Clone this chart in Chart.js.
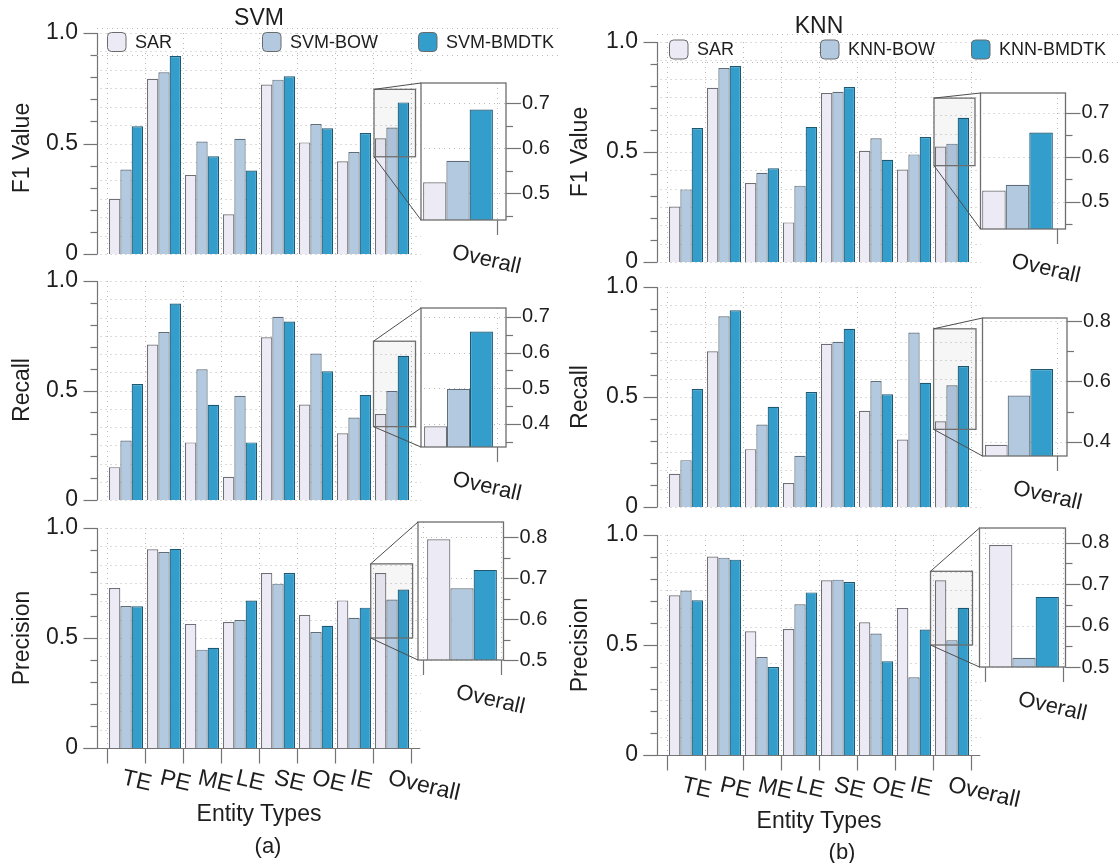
<!DOCTYPE html>
<html lang="en">
<head>
<meta charset="utf-8">
<title>Entity-type scores: SVM and KNN</title>
<script src="https://cdn.jsdelivr.net/npm/chart.js@4.4.1/dist/chart.umd.min.js"></script>
<style>
  html, body { margin: 0; padding: 0; background: #fff; }
  #page { position: relative; width: 1120px; height: 863px; overflow: hidden; background: #fff;
          font-family: "Liberation Sans", Arial, Helvetica, sans-serif; color: #1e1e1e; }
  #page canvas { position: absolute; }
  .lbl { position: absolute; white-space: nowrap; line-height: 1; z-index: 30; }
</style>
</head>
<body>
<div id="page"></div>
<script>
// ---------------- data ----------------
const categories = ['TE', 'PE', 'ME', 'LE', 'SE', 'OE', 'IE', 'Overall'];
const svmNames = ['SAR', 'SVM-BOW', 'SVM-BMDTK'];
const knnNames = ['SAR', 'KNN-BOW', 'KNN-BMDTK'];

// SVM
const svmF1Sar    = [0.250, 0.793, 0.358, 0.180, 0.767, 0.505, 0.420, 0.524];
const svmF1Bow    = [0.382, 0.822, 0.509, 0.521, 0.789, 0.588, 0.461, 0.572];
const svmF1Bmdtk  = [0.578, 0.896, 0.442, 0.378, 0.804, 0.569, 0.547, 0.686];
const svmRecSar   = [0.150, 0.710, 0.263, 0.106, 0.743, 0.436, 0.305, 0.393];
const svmRecBow   = [0.272, 0.767, 0.597, 0.476, 0.837, 0.669, 0.377, 0.498];
const svmRecBmdtk = [0.530, 0.897, 0.435, 0.263, 0.815, 0.588, 0.480, 0.659];
const svmPreSar   = [0.727, 0.903, 0.564, 0.573, 0.795, 0.605, 0.671, 0.795];
const svmPreBow   = [0.645, 0.891, 0.447, 0.582, 0.747, 0.527, 0.592, 0.675];
const svmPreBmdtk = [0.644, 0.905, 0.456, 0.670, 0.795, 0.556, 0.638, 0.720];

// KNN
const knnF1Sar    = [0.252, 0.792, 0.359, 0.180, 0.768, 0.506, 0.420, 0.525];
const knnF1Bow    = [0.330, 0.882, 0.406, 0.347, 0.774, 0.562, 0.489, 0.538];
const knnF1Bmdtk  = [0.609, 0.891, 0.426, 0.614, 0.795, 0.465, 0.568, 0.656];
const knnRecSar   = [0.151, 0.708, 0.263, 0.109, 0.742, 0.437, 0.307, 0.390];
const knnRecBow   = [0.213, 0.867, 0.375, 0.233, 0.751, 0.573, 0.793, 0.553];
const knnRecBmdtk = [0.536, 0.894, 0.456, 0.523, 0.810, 0.512, 0.565, 0.641];
const knnPreSar   = [0.726, 0.902, 0.562, 0.573, 0.794, 0.603, 0.668, 0.794];
const knnPreBow   = [0.748, 0.897, 0.445, 0.685, 0.797, 0.552, 0.353, 0.522];
const knnPreBmdtk = [0.703, 0.888, 0.400, 0.739, 0.786, 0.426, 0.570, 0.669];

// tick labels
const mainTickValues = [0, 0.5, 1.0];
const mainTickText   = ['0', '0.5', '1.0'];
const insetTicksSvmF1  = [0.5, 0.6, 0.7];
const insetTicksSvmRec = [0.4, 0.5, 0.6, 0.7];
const insetTicksSvmPre = [0.5, 0.6, 0.7, 0.8];
const insetTicksKnnF1  = [0.5, 0.6, 0.7];
const insetTicksKnnRec = [0.4, 0.6, 0.8];
const insetTicksKnnPre = [0.5, 0.6, 0.7, 0.8];

// ---------------- style ----------------
const FONT = '"Liberation Sans", Arial, Helvetica, sans-serif';
const INK = '#1e1e1e';
const AXIS_C = '#747474';
const FRAME_C = '#6e6e6e';
const GRID_C = '#b9b9b9';
const FILLS = ['#ECEAF4', '#B3C9E0', '#339ECB'];
const EDGES = ['#6f6f77', '#5f6d7b', '#1d5873'];
const LABEL_TILT = 13 * Math.PI / 180;
const GROUP_W = 38;
const CAT_PCT = 34 / 38;

Chart.defaults.font.family = FONT;
Chart.defaults.color = INK;

// ---------------- layout ----------------
const COLS = [
  { groupLeft: 107, names: svmNames, legendX: [0, 155, 311], legendDy: 9, legendBand: [27.5, 54.5], right: 560 },
  { groupLeft: 667, names: knnNames, legendX: [2, 153, 304], legendDy: 7.5, legendBand: [33.5, 62], right: 1120 }
];

const panels = [
  { col: 0, series: [svmF1Sar, svmF1Bow, svmF1Bmdtk], top: 33, bottom: 254, legend: true, xAxis: false,
    inset: { box: [421, 83, 506, 220], range: [0.44, 0.745], rectX: [374, 415.5], step: 0.05, labels: insetTicksSvmF1 } },
  { col: 0, series: [svmRecSar, svmRecBow, svmRecBmdtk], top: 281, bottom: 500, legend: false, xAxis: false,
    inset: { box: [421, 308, 506, 447], range: [0.335, 0.725], rectX: [373.5, 415.5], step: 0.05, labels: insetTicksSvmRec } },
  { col: 0, series: [svmPreSar, svmPreBow, svmPreBmdtk], top: 528, bottom: 748, legend: false, xAxis: true,
    inset: { box: [418, 522, 503.5, 660], range: [0.5, 0.837], rectX: [370.7, 412.6], step: 0.05, labels: insetTicksSvmPre } },
  { col: 1, series: [knnF1Sar, knnF1Bow, knnF1Bmdtk], top: 42, bottom: 262, legend: true, xAxis: false,
    inset: { box: [980.5, 93, 1065.5, 229], range: [0.438, 0.745], rectX: [934, 975], step: 0.05, labels: insetTicksKnnF1 } },
  { col: 1, series: [knnRecSar, knnRecBow, knnRecBmdtk], top: 287, bottom: 507, legend: false, xAxis: false,
    inset: { box: [982.5, 318, 1067, 456], range: [0.353, 0.81], rectX: [933.6, 976], step: 0.1, labels: insetTicksKnnRec } },
  { col: 1, series: [knnPreSar, knnPreBow, knnPreBmdtk], top: 535, bottom: 755, legend: false, xAxis: true,
    inset: { box: [979.5, 528, 1065.5, 667], range: [0.5, 0.835], rectX: [930.5, 972.5], step: 0.05, labels: insetTicksKnnPre } }
];

const page = document.getElementById('page');

function addCanvas(w, h, z) {
  const c = document.createElement('canvas');
  c.width = w; c.height = h;
  c.style.width = w + 'px'; c.style.height = h + 'px';
  c.style.zIndex = z;
  page.appendChild(c);
  return c;
}

// move a canvas so that its chart area starts at (left, top) on the page
function place(chart, cv, left, top) {
  const a = chart.chartArea;
  cv._L = left - a.left;
  cv._T = top - a.top;
  cv.style.left = cv._L + 'px';
  cv.style.top = cv._T + 'px';
}

function addText(text, cx, cy, size, rotate) {
  const d = document.createElement('div');
  d.className = 'lbl';
  d.textContent = text;
  d.style.fontSize = size + 'px';
  d.style.left = cx + 'px';
  d.style.top = cy + 'px';
  d.style.transform = 'translate(-50%, -50%)' + (rotate ? ' rotate(' + rotate + 'deg)' : '');
  page.appendChild(d);
}

function dotted(ctx, x1, y1, x2, y2) {
  ctx.save();
  ctx.strokeStyle = GRID_C;
  ctx.lineWidth = 1;
  ctx.setLineDash([1, 4]);
  ctx.beginPath(); ctx.moveTo(x1, y1); ctx.lineTo(x2, y2); ctx.stroke();
  ctx.restore();
}

function seg(ctx, x1, y1, x2, y2) {
  ctx.beginPath(); ctx.moveTo(x1, y1); ctx.lineTo(x2, y2); ctx.stroke();
}

function mainTickLabel(v) {
  const i = mainTickValues.findIndex(t => Math.abs(t - v) < 1e-6);
  return i >= 0 ? mainTickText[i] : '';
}

// ---------------- main panel axes, grid and category labels ----------------
const mainPlugin = {
  id: 'mainAxes',
  beforeDatasetsDraw(chart, args, o) {
    const { ctx, chartArea: a, scales: { x, y } } = chart;
    const ax = Math.round(a.left - o.axisGap) + 0.5;
    for (let i = 0; i <= 12; i++) {
      const py = Math.round(y.getPixelForValue(i / 12)) + 0.5;
      dotted(ctx, ax + 3, py, a.right + 10, py);
    }
    const w = x.getPixelForValue(1) - x.getPixelForValue(0);
    for (let i = 0; i <= categories.length; i++) {
      const px = Math.round(x.getPixelForValue(i) - w / 2) + 0.5;
      dotted(ctx, px, a.top, px, a.bottom);
    }
  },
  afterDatasetsDraw(chart, args, o) {
    const { ctx, chartArea: a, scales: { x, y } } = chart;
    const ax = Math.round(a.left - o.axisGap) + 0.5;
    ctx.save();
    ctx.strokeStyle = AXIS_C;
    ctx.lineWidth = 1.2;
    seg(ctx, ax, y.getPixelForValue(1), ax, y.getPixelForValue(0));
    for (const t of y.ticks) {
      const py = Math.round(y.getPixelForValue(t.value)) + 0.5;
      seg(ctx, ax - (t.label ? 14 : 7), py, ax, py);
    }
    if (o.xAxis) {
      const base = Math.round(a.bottom) + 0.5;
      seg(ctx, ax - 14, base, a.right + 9, base);
      const w = x.getPixelForValue(1) - x.getPixelForValue(0);
      for (let i = 0; i <= categories.length; i++) {
        const px = Math.round(x.getPixelForValue(i) - w / 2) + 0.5;
        seg(ctx, px, base, px, base + 15);
      }
      ctx.fillStyle = INK;
      ctx.font = '23px ' + FONT;
      ctx.textAlign = 'left';
      ctx.textBaseline = 'alphabetic';
      chart.data.labels.forEach((lab, i) => {
        ctx.save();
        ctx.translate(x.getPixelForValue(i) - 5, a.bottom + 36);
        ctx.rotate(LABEL_TILT);
        ctx.fillText(lab, 0, 0);
        ctx.restore();
      });
    }
    ctx.restore();
  }
};

// ---------------- magnified "Overall" frame ----------------
const insetPlugin = {
  id: 'insetFrame',
  beforeDatasetsDraw(chart, args, o) {
    const { ctx, chartArea: a, scales: { y } } = chart;
    const bx0 = a.left - o.leftOff, bx1 = a.right + o.rightOff;
    ctx.save();
    ctx.fillStyle = '#fff';
    ctx.fillRect(bx0, a.top, bx1 - bx0, a.bottom - a.top);
    ctx.restore();
    for (const t of y.ticks) {
      if (!t.label) continue;
      const py = Math.round(y.getPixelForValue(t.value)) + 0.5;
      dotted(ctx, bx0 + 3, py, bx1, py);
    }
    for (const px of [a.left, a.right]) {
      if (px > bx0 + 1 && px < bx1 - 1) dotted(ctx, Math.round(px) + 0.5, a.top, Math.round(px) + 0.5, a.bottom);
    }
  },
  afterDatasetsDraw(chart, args, o) {
    const { ctx, chartArea: a, scales: { x, y } } = chart;
    const bx0 = a.left - o.leftOff, bx1 = a.right + o.rightOff;
    ctx.save();
    ctx.strokeStyle = FRAME_C;
    ctx.lineWidth = 1.3;
    ctx.strokeRect(bx0, a.top, bx1 - bx0, a.bottom - a.top);
    ctx.strokeStyle = AXIS_C;
    ctx.lineWidth = 1.2;
    for (const t of y.ticks) {
      const py = Math.round(y.getPixelForValue(t.value)) + 0.5;
      seg(ctx, bx1, py, bx1 + (t.label ? 15 : 7), py);
    }
    for (const px of [a.left, a.right]) {
      if (px >= bx0 - 0.5 && px <= bx1) seg(ctx, Math.round(px) + 0.5, a.bottom, Math.round(px) + 0.5, a.bottom + 15);
    }
    ctx.fillStyle = INK;
    ctx.font = '22px ' + FONT;
    ctx.textAlign = 'left';
    ctx.textBaseline = 'alphabetic';
    const last = categories.length - 1;
    ctx.translate(x.getPixelForValue(last) - 7, a.bottom + 38);
    ctx.rotate(LABEL_TILT);
    ctx.fillText(categories[last], 0, 0);
    ctx.restore();
  }
};

function makeDatasets(p, clip) {
  const names = COLS[p.col].names;
  return p.series.map((s, i) => {
    const d = { label: names[i], data: s, backgroundColor: FILLS[i], borderColor: EDGES[i], borderWidth: 1.2 };
    if (clip) d.clip = 0;
    return d;
  });
}

function makeMain(p) {
  const col = COLS[p.col];
  const AX = 100, PR = 60, PT = 60, PB = p.xAxis ? 90 : 60;
  const areaW = categories.length * GROUP_W;
  const areaH = p.bottom - p.top;
  const cv = addCanvas(AX + areaW + PR, PT + areaH + PB, 1);
  const chart = new Chart(cv, {
    type: 'bar',
    data: { labels: categories, datasets: makeDatasets(p, false) },
    options: {
      responsive: false, animation: false, devicePixelRatio: 1,
      layout: { padding: { top: PT, bottom: PB, right: PR, left: 0 } },
      datasets: { bar: { barPercentage: 1, categoryPercentage: CAT_PCT } },
      plugins: { legend: { display: false }, tooltip: { enabled: false }, mainAxes: { axisGap: 10, xAxis: p.xAxis } },
      scales: {
        x: { display: false, offset: true },
        y: {
          min: 0, max: 1,
          afterFit: s => { s.width = AX; },
          ticks: { stepSize: 0.1, autoSkip: false, padding: 29, color: INK, font: { size: 23 }, callback: mainTickLabel },
          grid: { display: false, drawTicks: false },
          border: { display: false }
        }
      }
    },
    plugins: [mainPlugin]
  });
  place(chart, cv, col.groupLeft, p.top);
  return { p, chart, cv };
}

function makeInset(p) {
  const col = COLS[p.col];
  const ins = p.inset;
  const [bx0, by0, bx1, by1] = ins.box;
  const [rx0, rx1] = ins.rectX;
  const gL = col.groupLeft + (categories.length - 1) * GROUP_W;
  const gR = gL + GROUP_W;
  const k = (bx1 - bx0) / (rx1 - rx0);
  const caL = Math.round(bx0 + (gL - rx0) * k);
  const caW = Math.round((gR - gL) * k);
  const leftOff = caL - bx0;
  const rightOff = bx1 - (caL + caW);
  const padL = Math.max(6, Math.ceil(leftOff) + 6);
  const axW = Math.ceil(rightOff) + 62;
  const PT = 60, PB = 70;
  const cv = addCanvas(padL + caW + axW, PT + (by1 - by0) + PB, 2);
  const labelOf = v => {
    const hit = ins.labels.find(t => Math.abs(t - v) < 1e-6);
    return hit === undefined ? '' : hit.toFixed(1);
  };
  const chart = new Chart(cv, {
    type: 'bar',
    data: { labels: categories, datasets: makeDatasets(p, true) },
    options: {
      responsive: false, animation: false, devicePixelRatio: 1,
      layout: { padding: { top: PT, bottom: PB, left: padL, right: 0 } },
      datasets: { bar: { barPercentage: 1, categoryPercentage: CAT_PCT } },
      plugins: { legend: { display: false }, tooltip: { enabled: false }, insetFrame: { leftOff, rightOff } },
      scales: {
        x: { display: false, offset: true, min: categories[categories.length - 1], max: categories[categories.length - 1] },
        y: {
          position: 'right', min: ins.range[0], max: ins.range[1],
          afterFit: s => { s.width = axW; },
          ticks: { stepSize: ins.step, autoSkip: false, includeBounds: false, padding: rightOff + 16, color: INK, font: { size: 20 }, callback: labelOf },
          grid: { display: false, drawTicks: false },
          border: { display: false }
        }
      }
    },
    plugins: [insetPlugin]
  });
  place(chart, cv, caL, by0);
  return { chart, cv, leftOff, rightOff };
}

function roundRectPath(ctx, x, y, w, h, r) {
  ctx.beginPath();
  ctx.moveTo(x + r, y);
  ctx.lineTo(x + w - r, y); ctx.quadraticCurveTo(x + w, y, x + w, y + r);
  ctx.lineTo(x + w, y + h - r); ctx.quadraticCurveTo(x + w, y + h, x + w - r, y + h);
  ctx.lineTo(x + r, y + h); ctx.quadraticCurveTo(x, y + h, x, y + h - r);
  ctx.lineTo(x, y + r); ctx.quadraticCurveTo(x, y, x + r, y);
  ctx.closePath();
}

// ---------------- build ----------------
const built = panels.map(p => ({ main: makeMain(p), inset: makeInset(p) }));

// legends, zoom frames and their guide lines, drawn on top of everything
(function overlay() {
  const cv = addCanvas(1120, 863, 20);
  cv.style.left = '0px'; cv.style.top = '0px'; cv.style.pointerEvents = 'none';
  const ctx = cv.getContext('2d');

  COLS.forEach((col, ci) => {
    const top = built.find(b => b.main.p.col === ci && b.main.p.legend).main;
    const ax = col.groupLeft - 10;
    for (const yy of col.legendBand) dotted(ctx, ax, Math.round(yy) + 0.5, col.right, Math.round(yy) + 0.5);
    const cy = top.chart.chartArea.top + top.cv._T + col.legendDy;
    top.chart.data.datasets.forEach((d, i) => {
      const bx = col.groupLeft + col.legendX[i];
      roundRectPath(ctx, bx + 0.5, cy - 9.5, 18.5, 19, 4);
      ctx.fillStyle = d.backgroundColor;
      ctx.fill();
      ctx.strokeStyle = '#6a6a6a';
      ctx.lineWidth = 1;
      ctx.stroke();
      ctx.fillStyle = INK;
      ctx.font = '18px ' + FONT;
      ctx.textAlign = 'left';
      ctx.textBaseline = 'middle';
      ctx.fillText(d.label, bx + 28, cy + 1);
    });
  });

  built.forEach(({ main, inset }) => {
    const p = main.p;
    const ys = main.chart.scales.y;
    const [rx0, rx1] = p.inset.rectX;
    const rTop = ys.getPixelForValue(p.inset.range[1]) + main.cv._T;
    const rBot = ys.getPixelForValue(p.inset.range[0]) + main.cv._T;
    const ia = inset.chart.chartArea;
    const bx0 = ia.left - inset.leftOff + inset.cv._L;
    const bTop = ia.top + inset.cv._T;
    const bBot = ia.bottom + inset.cv._T;
    ctx.save();
    ctx.fillStyle = 'rgba(0,0,0,0.035)';
    ctx.fillRect(rx0, rTop, rx1 - rx0, rBot - rTop);
    ctx.strokeStyle = FRAME_C;
    ctx.lineWidth = 1.3;
    ctx.strokeRect(rx0, rTop, rx1 - rx0, rBot - rTop);
    ctx.strokeStyle = '#4d4d4d';
    ctx.lineWidth = 1;
    seg(ctx, rx0, rTop, bx0, bTop);
    seg(ctx, rx0, rBot, bx0, bBot);
    ctx.restore();
  });
})();

// ---------------- titles ----------------
addText('SVM', 259, 17, 23);
addText('KNN', 819, 25, 23);
addText('F1 Value', 20.5, 148, 23, -90);
addText('Recall', 20.5, 390, 23, -90);
addText('Precision', 20.5, 638, 23, -90);
addText('F1 Value', 579, 152, 23, -90);
addText('Recall', 579, 397, 23, -90);
addText('Precision', 579, 645, 23, -90);
addText('Entity Types', 259, 813, 23);
addText('Entity Types', 819, 820, 23);
addText('(a)', 268, 846, 22);
addText('(b)', 842, 852, 22);
</script>
</body>
</html>
